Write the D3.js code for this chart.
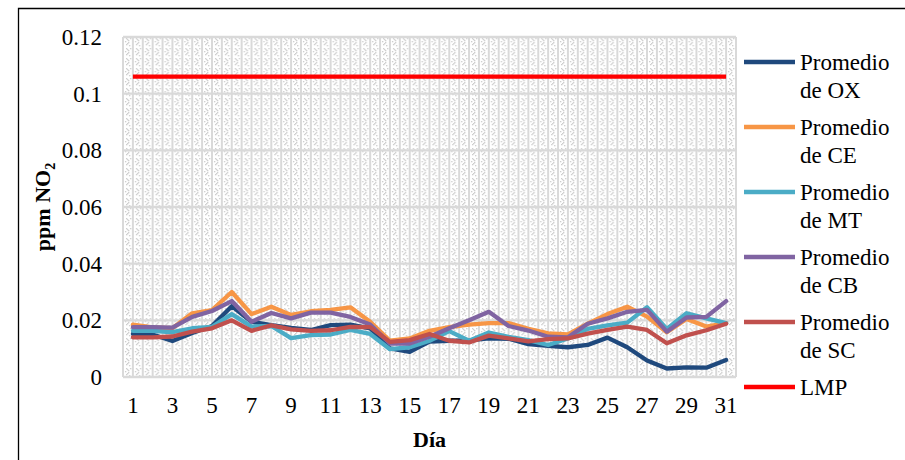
<!DOCTYPE html>
<html><head><meta charset="utf-8">
<script src="https://cdn.jsdelivr.net/npm/d3@7"></script>
<style>
html,body{margin:0;padding:0;background:#fff;}
svg{display:block;}
</style></head>
<body>
<svg id="chart" width="905" height="460"></svg>
<script>
const days = [1,2,3,4,5,6,7,8,9,10,11,12,13,14,15,16,17,18,19,20,21,22,23,24,25,26,27,28,29,30,31];
const xTickLabels = [1,3,5,7,9,11,13,15,17,19,21,23,25,27,29,31];
const yTicks = [0,0.02,0.04,0.06,0.08,0.1,0.12];
const seriesNames = ["Promedio de OX","Promedio de CE","Promedio de MT","Promedio de CB","Promedio de SC"];
const ox = [0.0152,0.0150,0.0127,0.0155,0.0180,0.0250,0.0195,0.0183,0.0173,0.0166,0.0183,0.0185,0.0172,0.0101,0.0089,0.0125,0.0128,0.0129,0.0136,0.0135,0.0116,0.0110,0.0105,0.0113,0.0139,0.0105,0.0058,0.0030,0.0034,0.0033,0.0060];
const ce = [0.0185,0.0175,0.0172,0.0225,0.0236,0.0300,0.0222,0.0248,0.0219,0.0232,0.0237,0.0246,0.0195,0.0128,0.0136,0.0163,0.0176,0.0185,0.0190,0.0190,0.0170,0.0154,0.0150,0.0188,0.0222,0.0248,0.0213,0.0158,0.0205,0.0178,0.0190];
const mt = [0.0163,0.0163,0.0158,0.0172,0.0177,0.0222,0.0178,0.0180,0.0137,0.0148,0.0150,0.0166,0.0152,0.0098,0.0105,0.0128,0.0162,0.0128,0.0157,0.0142,0.0130,0.0113,0.0136,0.0170,0.0182,0.0192,0.0246,0.0170,0.0225,0.0207,0.0190];
const cb = [0.0176,0.0176,0.0174,0.0212,0.0233,0.0268,0.0195,0.0226,0.0207,0.0227,0.0227,0.0212,0.0185,0.0118,0.0118,0.0142,0.0172,0.0200,0.0230,0.0180,0.0164,0.0142,0.0140,0.0188,0.0207,0.0230,0.0237,0.0160,0.0210,0.0212,0.0268];
const sc = [0.0140,0.0140,0.0143,0.0160,0.0172,0.0200,0.0163,0.0182,0.0168,0.0163,0.0165,0.0177,0.0176,0.0124,0.0130,0.0152,0.0128,0.0122,0.0146,0.0136,0.0126,0.0134,0.0136,0.0153,0.0166,0.0178,0.0166,0.0119,0.0147,0.0165,0.0188];
const lmpValue = 0.106;
const lmpName = "LMP";

const series = [
  {name: seriesNames[0], values: ox, color: "#1F497D"},
  {name: seriesNames[1], values: ce, color: "#F79646"},
  {name: seriesNames[2], values: mt, color: "#4BACC6"},
  {name: seriesNames[3], values: cb, color: "#8064A2"},
  {name: seriesNames[4], values: sc, color: "#C0504D"}
];

const FONT = "'Liberation Serif','Times New Roman',serif";
const svg = d3.select("#chart");
const plot = {left: 123, top: 37, right: 736, bottom: 377};

// outer border
svg.append("path").attr("d", "M18.5,470 L18.5,8.5 L920,8.5")
  .attr("fill","none").attr("stroke","#000").attr("stroke-width",1.3);

const x = d3.scaleBand().domain(days).range([plot.left, plot.right]).paddingInner(0).paddingOuter(0);
const y = d3.scaleLinear().domain([0,0.12]).range([plot.bottom, plot.top]);
const cx = d => x(d) + x.bandwidth()/2;

// pattern
const defs = svg.append("defs");
const pw = x.bandwidth()/2;
const pat = defs.append("pattern").attr("id","tex").attr("patternUnits","userSpaceOnUse")
  .attr("x", plot.left).attr("y", plot.top).attr("width", pw).attr("height", 10);
pat.append("rect").attr("width", pw).attr("height",10).attr("fill","#fff");
[[3,1],[4,2],[5,3],[5,5],[4,6],[3,7],[6,8],[2,4],[7,1]].forEach(p=>{
  pat.append("rect").attr("x",p[0]).attr("y",p[1]).attr("width",1.3).attr("height",1.3).attr("fill","#cccccc");
});
svg.append("rect").attr("x",plot.left).attr("y",plot.top)
  .attr("width",plot.right-plot.left).attr("height",plot.bottom-plot.top).attr("fill","url(#tex)");

// vertical gridlines at band edges and centers
const vLines = [];
days.forEach(d => { vLines.push(x(d)); vLines.push(cx(d)); });
vLines.push(plot.right);
svg.append("g").selectAll("line").data(vLines).join("line")
  .attr("x1", v=>v).attr("x2", v=>v).attr("y1", plot.top).attr("y2", plot.bottom)
  .attr("stroke","#d9d9d9").attr("stroke-width",2);

// horizontal gridlines
svg.append("g").selectAll("line").data(yTicks).join("line")
  .attr("x1", plot.left).attr("x2", plot.right).attr("y1", d=>y(d)).attr("y2", d=>y(d))
  .attr("stroke","#d9d9d9").attr("stroke-width",2.4);

// y axis labels
const yAxis = d3.axisLeft(y).tickValues(yTicks).tickSize(0).tickPadding(0)
  .tickFormat(d => d===0 ? "0" : String(+d.toFixed(2)));
const gy = svg.append("g").attr("transform", `translate(${plot.left-21},0)`).call(yAxis);
gy.select(".domain").remove();
gy.selectAll("text").style("font-family", FONT).attr("font-size","23px").attr("fill","#000").attr("dy","0.32em");

// x axis labels
const xAxis = d3.axisBottom(x).tickValues(xTickLabels).tickSize(0).tickPadding(0);
const gx = svg.append("g").attr("transform", `translate(0,${plot.bottom+20})`).call(xAxis);
gx.select(".domain").remove();
gx.selectAll("text").style("font-family", FONT).attr("font-size","23px").attr("fill","#000").attr("dy","0.71em");

// axis titles
const yt = svg.append("text").attr("transform","translate(50,207) rotate(-90)")
  .style("font-family", FONT).attr("text-anchor","middle").attr("font-size","22px").attr("font-weight","bold");
yt.append("tspan").text("ppm NO");
yt.append("tspan").text("2").attr("font-size","14px").attr("dy","5");
svg.append("text").attr("x", (plot.left+plot.right)/2).attr("y", 447)
  .style("font-family", FONT).attr("text-anchor","middle").attr("font-size","22px").attr("font-weight","bold").text("Día");

// lines
const line = d3.line().x((v,i)=>cx(days[i])).y(v=>y(v));
series.forEach(s => {
  svg.append("path").datum(s.values).attr("d", line)
    .attr("fill","none").attr("stroke", s.color).attr("stroke-width",4.3)
    .attr("stroke-linejoin","round").attr("stroke-linecap","round");
});
svg.append("line").attr("x1", cx(days[0])).attr("x2", cx(days[days.length-1]))
  .attr("y1", y(lmpValue)).attr("y2", y(lmpValue))
  .attr("stroke","#FF0000").attr("stroke-width",4.3);

// legend
const legendItems = series.map(s=>({name:s.name, color:s.color})).concat([{name:lmpName, color:"#FF0000"}]);
const lg = svg.append("g");
legendItems.forEach((it,i) => {
  const yy = 62 + i*65;
  lg.append("line").attr("x1",744).attr("x2",795).attr("y1",yy).attr("y2",yy)
    .attr("stroke", it.color).attr("stroke-width",4.3);
  const parts = it.name.startsWith("Promedio ") ? ["Promedio", it.name.slice(9)] : [it.name];
  parts.forEach((p,j) => {
    lg.append("text").attr("x",800).attr("y", yy + j*28.5).attr("dy","0.34em")
      .style("font-family", FONT).attr("font-size","23px").attr("fill","#000").text(p);
  });
});
</script>
</body></html>
